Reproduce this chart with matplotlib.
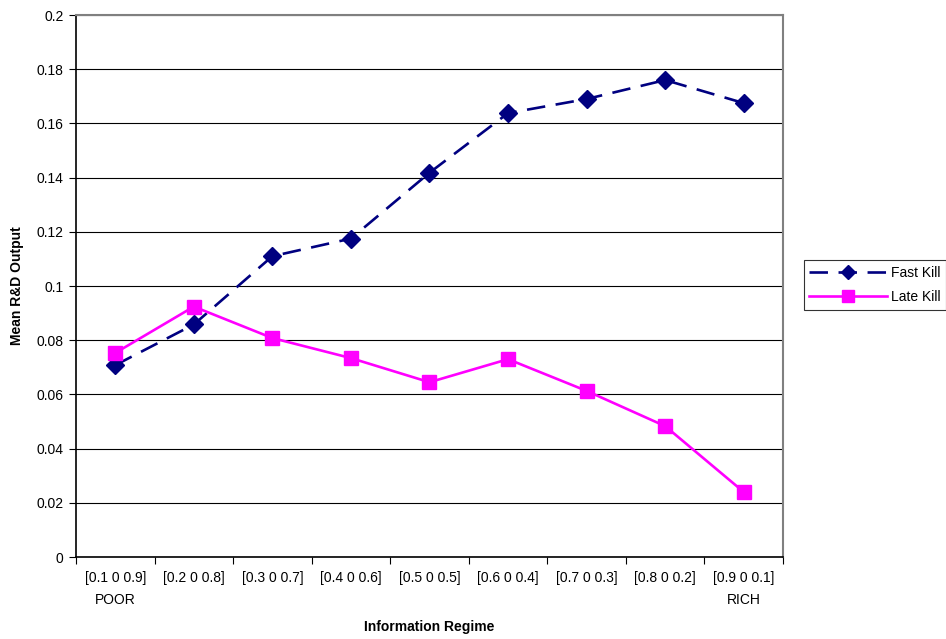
import matplotlib
matplotlib.use("Agg")
import matplotlib.pyplot as plt
from matplotlib.ticker import FixedLocator

plt.rcParams['font.family'] = ['Liberation Sans', 'DejaVu Sans']

categories = ["[0.1 0 0.9]\nPOOR", "[0.2 0 0.8]", "[0.3 0 0.7]", "[0.4 0 0.6]",
              "[0.5 0 0.5]", "[0.6 0 0.4]", "[0.7 0 0.3]", "[0.8 0 0.2]",
              "[0.9 0 0.1]\nRICH"]
fast_kill = [0.0708, 0.0858, 0.1110, 0.1175, 0.1418, 0.1638, 0.1690, 0.1760, 0.1675]
late_kill = [0.0753, 0.0924, 0.0808, 0.0734, 0.0645, 0.0730, 0.0613, 0.0483, 0.0240]
y_ticks = [0.0, 0.02, 0.04, 0.06, 0.08, 0.1, 0.12, 0.14, 0.16, 0.18, 0.2]
y_tick_labels = ['0', '0.02', '0.04', '0.06', '0.08', '0.1', '0.12',
                 '0.14', '0.16', '0.18', '0.2']

fig = plt.figure(figsize=(9.46, 6.39), dpi=100)
ax = fig.add_axes([0.0803, 0.1283, 0.7474, 0.8482])

x = list(range(len(categories)))
ax.plot(x, fast_kill, color='#000080', lw=1.9, linestyle=(0, (7, 4)),
        marker='D', markersize=9, label='Fast Kill', zorder=3)
ax.plot(x, late_kill, color='#FF00FF', lw=1.9, linestyle='-',
        marker='s', markersize=10, label='Late Kill', zorder=3)

ax.set_xlim(-0.5, len(categories) - 0.5)
ax.set_ylim(0, 0.2)
ax.set_yticks(y_ticks)
ax.set_yticklabels(y_tick_labels)
ax.yaxis.grid(True, color='black', lw=0.8)
ax.set_axisbelow(True)

ax.set_xticks(x)
ax.set_xticklabels(categories, fontsize=10, linespacing=1.75)
ax.xaxis.set_minor_locator(FixedLocator([i - 0.5 for i in range(len(categories) + 1)]))
ax.tick_params(axis='x', which='major', length=0, pad=10)
ax.tick_params(axis='x', which='minor', length=5, width=0.8, direction='out')
ax.tick_params(axis='y', length=5, width=0.8, direction='out', labelsize=10, pad=4)

for side in ('top', 'right'):
    ax.spines[side].set_color('#808080')
    ax.spines[side].set_linewidth(1.5)
for side in ('left', 'bottom'):
    ax.spines[side].set_color('black')
    ax.spines[side].set_linewidth(1.2)

ax.set_xlabel('Information Regime', fontsize=10, fontweight='bold', labelpad=9)
ax.set_ylabel('Mean R&D Output', fontsize=10, fontweight='bold', labelpad=9)

leg = ax.legend(loc='upper left', bbox_to_anchor=(0.8495, 0.593),
                bbox_transform=fig.transFigure, fontsize=10, frameon=True,
                fancybox=False, edgecolor='black', handlelength=5.6,
                handletextpad=0.3, borderpad=0.4, labelspacing=0.75,
                borderaxespad=0, markerscale=0.8)
leg.get_frame().set_linewidth(0.8)

fig.savefig('out.png', dpi=100)
